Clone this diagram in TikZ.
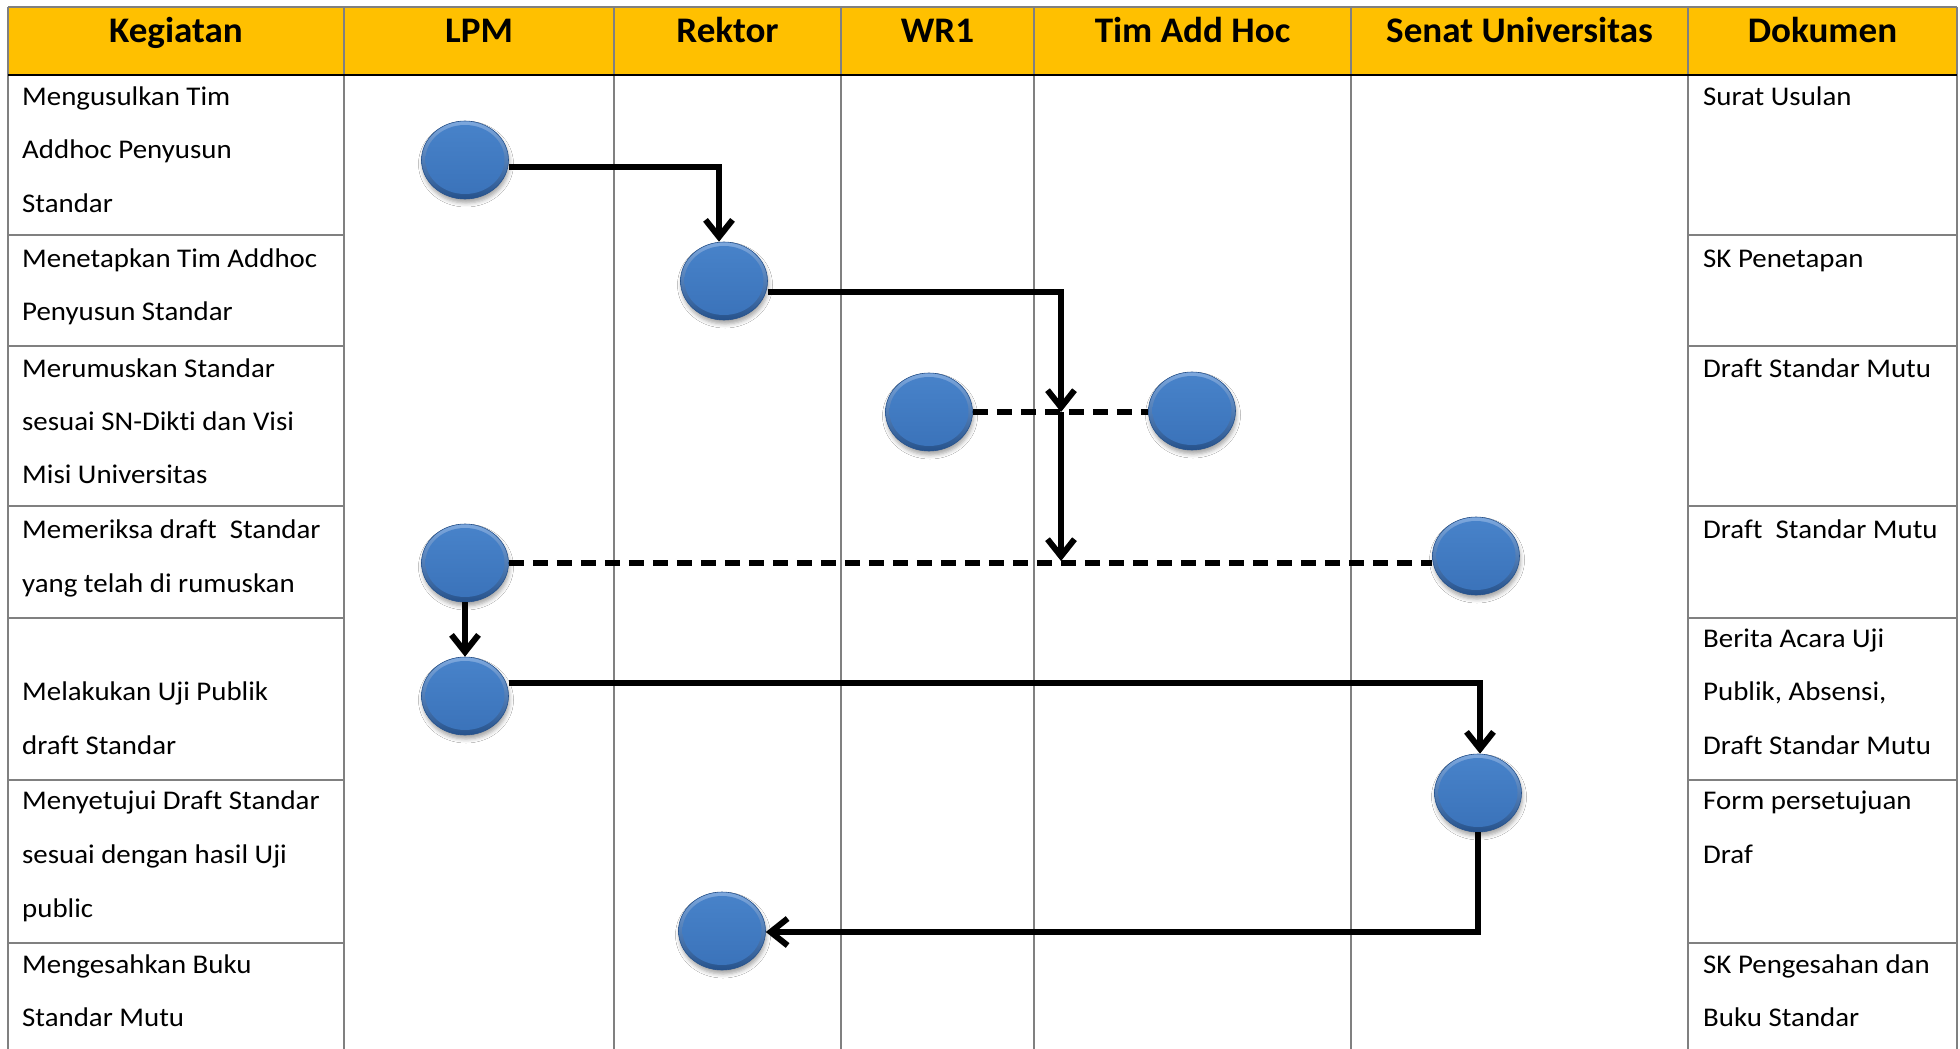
\documentclass[tikz,border=0pt]{standalone}
\usepackage{fontspec}
\setmainfont{Carlito}[Ligatures=NoCommon]
\newfontfamily\bodyfont{Carlito}[FakeStretch=1.07, Ligatures=NoCommon]
\newfontfamily\headfont{Carlito}[FakeStretch=1.03, Ligatures=NoCommon]
\usetikzlibrary{arrows.meta,shapes.geometric,shadows.blur,calc}
\definecolor{hdr}{RGB}{255,192,0}
\definecolor{gridc}{RGB}{128,128,128}
\definecolor{balltop}{RGB}{125,168,222}
\definecolor{ballbot}{RGB}{38,82,140}
\definecolor{facetop}{RGB}{72,131,202}
\definecolor{facebot}{RGB}{58,114,185}
\begin{document}
\begin{tikzpicture}[x=1pt,y=-1pt,
  gridline/.style={draw=gridc, line width=1.3pt},
  hd/.style={font=\headfont\fontsize{36}{40}\selectfont\bfseries, anchor=base, inner sep=0pt},
  txt/.style={font=\bodyfont\fontsize{27}{30}\selectfont, anchor=base west, inner sep=0pt},
  proc/.style={ellipse, minimum width=87pt, minimum height=78pt, inner sep=0pt,
    top color=balltop, bottom color=ballbot, draw=ballbot, line width=0.6pt,
    blur shadow={shadow xshift=1pt, shadow yshift=-4pt, shadow blur radius=4pt, shadow opacity=35},
    path picture={\shade[top color=facetop, bottom color=facebot]
      ([yshift=0.5pt]path picture bounding box.center) ellipse [x radius=39.5pt, y radius=34.5pt];}},
  flow/.style={line width=6pt, draw=black},
  arr/.style={flow, -{Straight Barb[length=17pt,width=27pt]}},
  dsh/.style={flow, dash pattern=on 15pt off 9pt}
]
\useasboundingbox (0,0) rectangle (1960,1049);
\fill[white] (0,0) rectangle (1960,1049);
% header
\fill[hdr] (8,7) rectangle (1957,75);
\foreach \x in {8,344,614,841,1034,1351,1688,1957}
  \draw[gridline] (\x,7) -- (\x,1049);
\draw[gridline] (8,7) -- (1957,7);
\foreach \y in {235,346,506,618,780,943}{
  \draw[gridline] (8,\y) -- (344,\y);
  \draw[gridline] (1688,\y) -- (1957,\y);
}
\draw[black, line width=2pt] (8,75) -- (1957,75);

\node[hd] (h1) at (176,43) {Kegiatan};
\node[hd] (h2) at (479,43) {LPM};
\node[hd] (h3) at (727.5,43) {Rektor};
\node[hd] (h4) at (937.5,43) {WR1};
\node[hd] (h5) at (1192.5,43) {Tim Add Hoc};
\node[hd] (h6) at (1519.5,43) {Senat Universitas};
\node[hd] (h7) at (1822.5,43) {Dokumen};

% Kegiatan column
\node[txt] (k1a) at (22,105) {Mengusulkan Tim};
\node[txt] (k1b) at (22,158) {Addhoc Penyusun};
\node[txt] (k1c) at (22,212) {Standar};
\node[txt] (k2a) at (22,267) {Menetapkan Tim Addhoc};
\node[txt] (k2b) at (22,320.5) {Penyusun Standar};
\node[txt] (k3a) at (22,377) {Merumuskan Standar};
\node[txt] (k3b) at (22,430) {sesuai SN-Dikti dan Visi};
\node[txt] (k3c) at (22,483.5) {Misi Universitas};
\node[txt] (k4a) at (22,538.5) {Memeriksa draft~~Standar};
\node[txt] (k4b) at (22,592) {yang telah di rumuskan};
\node[txt] (k5a) at (22,700.5) {Melakukan Uji Publik};
\node[txt] (k5b) at (22,754) {draft Standar};
\node[txt] (k6a) at (22,809.5) {Menyetujui Draft Standar};
\node[txt] (k6b) at (22,863) {sesuai dengan hasil Uji};
\node[txt] (k6c) at (22,917) {public};
\node[txt] (k7a) at (22,973.5) {Mengesahkan Buku};
\node[txt] (k7b) at (22,1026) {Standar Mutu};

% Dokumen column
\node[txt] (d1a) at (1703,105) {Surat Usulan};
\node[txt] (d2a) at (1703,267) {SK Penetapan};
\node[txt] (d3a) at (1703,377) {Draft Standar Mutu};
\node[txt] (d4a) at (1703,538.5) {Draft~~Standar Mutu};
\node[txt] (d5a) at (1703,647) {Berita Acara Uji};
\node[txt] (d5b) at (1703,700.5) {Publik, Absensi,};
\node[txt] (d5c) at (1703,754) {Draft Standar Mutu};
\node[txt] (d6a) at (1703,809.5) {Form persetujuan};
\node[txt] (d6b) at (1703,863) {Draf};
\node[txt] (d7a) at (1703,973.5) {SK Pengesahan dan};
\node[txt] (d7b) at (1703,1026) {Buku Standar};

% process circles
\node[proc] (c1) at (465,160) {};
\node[proc] (c2) at (724,281) {};
\node[proc] (c3) at (929,412) {};
\node[proc] (c4) at (1192,411) {};
\node[proc] (c5) at (465,563) {};
\node[proc] (c6) at (1476,556) {};
\node[proc] (c7) at (465,696) {};
\node[proc] (c8) at (1478,793) {};
\node[proc] (c9) at (722,931) {};

% connectors
\coordinate (a1) at (719,167);
\draw[arr] (c1.east |- a1) -- (a1) -- (a1 |- c2.north);

\coordinate (b1) at (1061,292);
\coordinate (b2) at (1061,412);
\coordinate (b3) at (1061,561);
\draw[arr] (c2.east |- b1) -- (b1) -- (b2);
\draw[arr] (b2) -- (b3);

\draw[dsh] (c3.east) -- (c3.east -| c4.west);
\draw[dsh] (c5.east) -- (c5.east -| c6.west);

\draw[arr] (c5.south) -- (c7.north);

\coordinate (f1) at (1480,683);
\draw[arr] (c7.east |- f1) -- (f1) -- (f1 |- c8.north);

\coordinate (g1) at (1478,932);
\draw[arr] (c8.south) -- (g1) -- (g1 -| c9.east);
\end{tikzpicture}
\end{document}
